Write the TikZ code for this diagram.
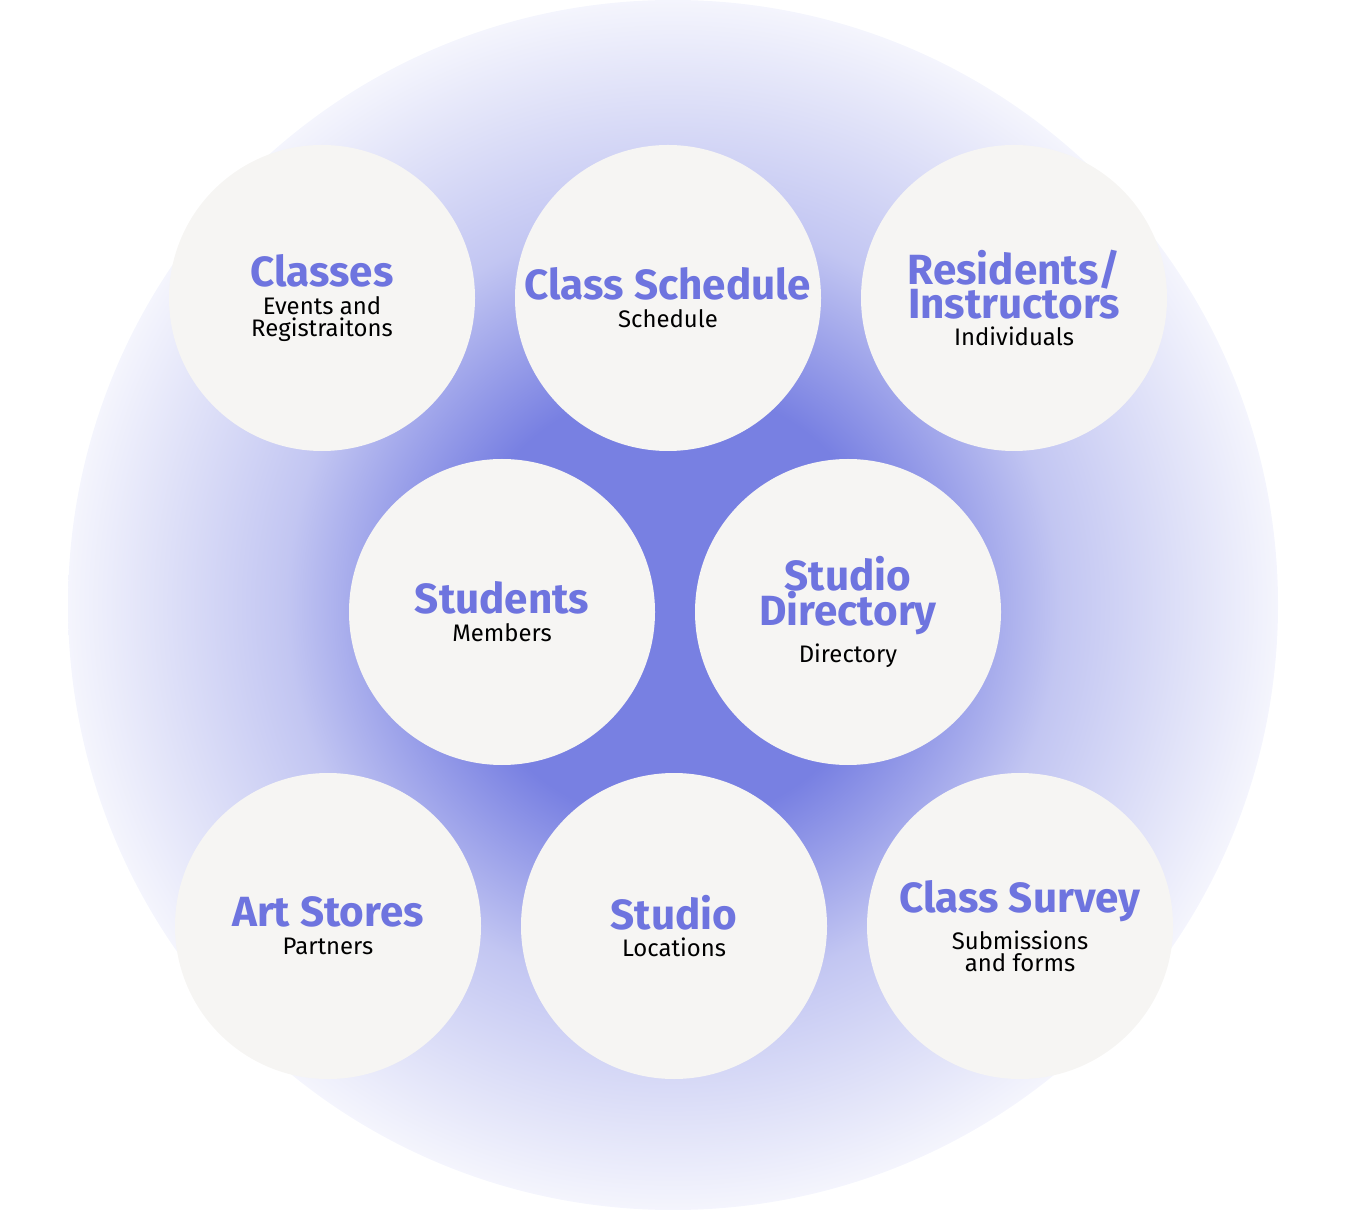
\documentclass[tikz,border=0pt]{standalone}
\usepackage{fontspec}
\setmainfont{Fira Sans}
\definecolor{glowblue}{HTML}{7880E2}
\definecolor{titleblue}{HTML}{6E74DF}
\definecolor{disc}{HTML}{F6F5F3}
\pgfdeclareradialshading{glow}{\pgfpoint{0bp}{0bp}}{color(0bp)=(glowblue); color(9bp)=(glowblue); color(16bp)=(glowblue!45!white); color(25bp)=(glowblue!8!white); color(31bp)=(glowblue!3!white); color(35bp)=(white); color(50bp)=(white)}
\begin{document}
\begin{tikzpicture}[x=0.01cm,y=-0.01cm]
%environnement
\tikzstyle{bubble}=[circle,fill=disc,minimum size=306*0.01cm,inner sep=0pt,align=center,font=\fontsize{6.8}{6.4}\selectfont]
\newcommand{\ttl}[1]{{\fontsize{12}{11}\selectfont\bfseries\color{titleblue}#1}}
\newcommand{\sub}[1]{{\fontsize{6.8}{6.4}\selectfont #1}}
\useasboundingbox (0,0) rectangle (1346,1210);
\shade[shading=glow] (673,605) circle (605);

%the bubbles
\node[bubble] (classes) at (322,298) {\ttl{Classes}\\[1.5pt]\sub{Events and}\\\sub{Registraitons}};
\node[bubble] (schedule) at (668,298) {\ttl{Class Schedule}\\[1.5pt]\sub{Schedule}};
\node[bubble] (residents) at (1014,298) {\ttl{Residents/}\\[-1pt]\ttl{Instructors}\\[1.5pt]\sub{Individuals}};
\node[bubble] (students) at (502,612) {\ttl{Students}\\[1.5pt]\sub{Members}};
\node[bubble] (directory) at (848,612) {\ttl{Studio}\\[-1pt]\ttl{Directory}\\[1.5pt]\sub{Directory}};
\node[bubble] (stores) at (328,926) {\ttl{Art Stores}\\[1.5pt]\sub{Partners}};
\node[bubble] (studio) at (674,926) {\ttl{Studio}\\[1.5pt]\sub{Locations}};
\node[bubble] (survey) at (1020,926) {\ttl{Class Survey}\\[1.5pt]\sub{Submissions}\\\sub{and forms}};
\end{tikzpicture}
\end{document}
